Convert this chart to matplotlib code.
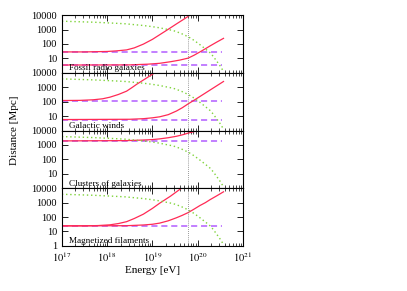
import matplotlib.pyplot as plt
from matplotlib.ticker import LogLocator, NullFormatter, FixedLocator, FixedFormatter

plt.rcParams['font.family'] = ['Liberation Serif', 'DejaVu Serif']
plt.rcParams['mathtext.fontset'] = 'stix'

# panel names
panels = ["Fossil radio galaxies", "Galactic winds", "Clusters of galaxies", "Magnetized filaments"]

# energy loss length (green dotted), same in every panel, log10 values
loss_logE = [17.0, 17.4, 17.7, 18.1, 18.4, 18.6, 18.8, 19.0, 19.16, 19.3, 19.46,
             19.62, 19.79, 19.92, 20.05, 20.16, 20.27, 20.34, 20.41, 20.48, 20.55]
loss_logD = [3.58, 3.54, 3.51, 3.45, 3.40, 3.34, 3.28, 3.20, 3.12, 3.03, 2.93,
             2.75, 2.50, 2.25, 1.95, 1.68, 1.40, 1.15, 0.85, 0.55, 0.2]

# plateau distances (purple dashed), Mpc
flat_D = [[28, 3.5], [120, 5.8], [1900], [25]]

# red curves: (log10 E, log10 D) pairs
red_logE = [
    [[17.0, 17.5, 18.0, 18.2, 18.43, 18.6, 18.8, 19.0, 19.16, 19.35, 19.53, 19.7, 19.83],
     [17.0, 18.5, 18.9, 19.16, 19.4, 19.6, 19.79, 19.92, 20.05, 20.17, 20.27, 20.42, 20.57]],
    [[17.0, 17.4, 17.69, 17.9, 18.06, 18.25, 18.43, 18.55, 18.65, 18.85, 19.05],
     [17.0, 18.5, 18.8, 19.0, 19.16, 19.35, 19.53, 19.66, 19.79, 19.92, 20.05, 20.17,
      20.27, 20.42, 20.57]],
    [[17.0, 18.43, 18.8, 19.0, 19.16, 19.35, 19.53, 19.66, 19.79, 19.9, 20.01]],
    [[17.0, 17.5, 17.8, 18.06, 18.25, 18.43, 18.6, 18.8, 19.0, 19.16, 19.4, 19.64],
     [17.0, 18.43, 18.8, 19.0, 19.16, 19.35, 19.53, 19.66, 19.79, 19.92, 20.05, 20.17,
      20.27, 20.42, 20.57]],
]
red_logD = [
    [[1.45, 1.45, 1.48, 1.52, 1.59, 1.73, 1.99, 2.32, 2.64, 3.02, 3.39, 3.73, 4.0],
     [0.54, 0.55, 0.60, 0.66, 0.77, 0.88, 1.02, 1.22, 1.45, 1.67, 1.86, 2.13, 2.39]],
    [[2.08, 2.09, 2.13, 2.20, 2.31, 2.50, 2.73, 2.98, 3.20, 3.60, 4.0],
     [0.76, 0.78, 0.82, 0.88, 0.95, 1.10, 1.35, 1.58, 1.85, 2.10, 2.36, 2.60, 2.80,
      3.10, 3.40]],
    [[3.28, 3.30, 3.34, 3.37, 3.42, 3.50, 3.60, 3.70, 3.82, 3.91, 4.0]],
    [[1.39, 1.39, 1.41, 1.46, 1.55, 1.68, 1.90, 2.20, 2.60, 2.96, 3.45, 4.0],
     [1.39, 1.40, 1.45, 1.50, 1.58, 1.74, 1.95, 2.12, 2.31, 2.55, 2.80, 3.00, 3.20,
      3.47, 3.75]],
]

E_gzk = 6e19
E_flat_end = 3.4e20

red = '#ff2a55'
purple = '#b25cff'
green = '#7fd33a'

fig, axes = plt.subplots(4, 1, figsize=(4.07, 2.91), dpi=100, sharex=True)
fig.subplots_adjust(left=0.152, right=0.597, top=0.948, bottom=0.155, hspace=0)

for i, ax in enumerate(axes):
    for D in flat_D[i]:
        ax.plot([1e17, E_flat_end], [D, D], color=purple, ls=(0, (4, 2.5)), lw=1.1)
    for le, ld in zip(red_logE[i], red_logD[i]):
        ax.plot([10**v for v in le], [10**v for v in ld], color=red, lw=0.9)
    ax.plot([10**v for v in loss_logE], [10**v for v in loss_logD],
            color=green, ls=(0, (1, 2)), lw=1.0)
    ax.axvline(E_gzk, color='#777777', ls=(0, (1, 1.5)), lw=0.6)

    ax.set_xscale('log')
    ax.set_yscale('log')
    ax.set_xlim(1e17, 1e21)
    ax.set_ylim(1, 10000)
    ticks = [1, 10, 100, 1000, 10000] if i == 3 else [10, 100, 1000, 10000]
    ax.yaxis.set_major_locator(FixedLocator(ticks))
    ax.yaxis.set_major_formatter(FixedFormatter([str(t) for t in ticks]))
    ax.yaxis.set_minor_locator(LogLocator(base=10, subs=range(2, 10)))
    ax.yaxis.set_minor_formatter(NullFormatter())
    ax.xaxis.set_minor_locator(LogLocator(base=10, subs=range(2, 10)))
    ax.xaxis.set_minor_formatter(NullFormatter())
    ax.tick_params(which='both', direction='in', top=True, right=True, labelsize=7.5)
    ax.tick_params(which='major', length=4, width=0.6)
    ax.tick_params(which='minor', length=2, width=0.5)
    for s in ax.spines.values():
        s.set_linewidth(0.8)
    ax.text(0.04, 0.01, panels[i], transform=ax.transAxes, fontsize=6.6,
            ha='left', va='bottom')

axes[-1].set_xticks([1e17, 1e18, 1e19, 1e20, 1e21])
axes[-1].set_xticklabels([r'$10^{17}$', r'$10^{18}$', r'$10^{19}$', r'$10^{20}$', r'$10^{21}$'])
axes[-1].set_xlabel('Energy [eV]', fontsize=8, labelpad=1)
fig.text(0.035, 0.553, 'Distance [Mpc]', rotation=90, fontsize=8, ha='center', va='center')

fig.savefig('out.png', dpi=100)
